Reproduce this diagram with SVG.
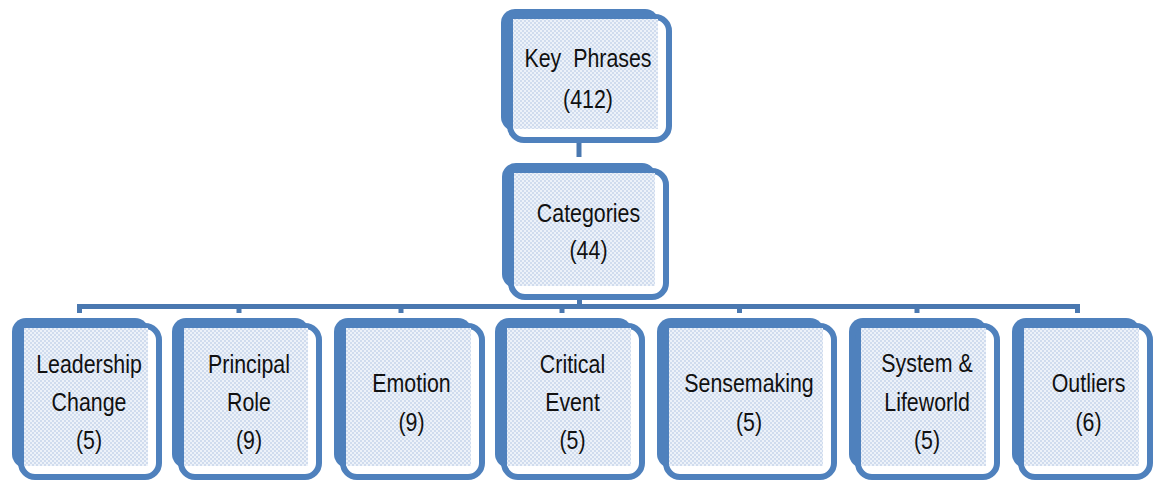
<svg xmlns="http://www.w3.org/2000/svg" width="1154" height="481" viewBox="0 0 1154 481">
<style>
.back{fill:#4f81bd}
.front{fill:#ffffff;stroke:#4f81bd;stroke-width:6}
.pat{fill:url(#dots)}
.t{font-family:"Liberation Sans",Arial,sans-serif;font-size:25px;fill:#111;text-anchor:middle}
.conn{fill:none;stroke:#4a78b0;stroke-width:5}
</style>
<defs>
<pattern id="dots" width="4" height="4" patternUnits="userSpaceOnUse">
<rect width="4" height="4" fill="#edf2f9"/>
<rect width="2" height="2" fill="#d0dcee"/>
<rect x="2" y="2" width="2" height="2" fill="#d0dcee"/>
</pattern>
</defs>
<rect width="1154" height="481" fill="#ffffff"/>
<g id="connectors">
<path class="conn" d="M579 143V157" stroke-width="6"/>
<path class="conn" d="M579.5 300V306.5"/>
<path class="conn" d="M79.5 313V306.5H1077.5V313"/>
<path class="conn" d="M239 306.5V313M401 306.5V313M562 306.5V313M739.5 306.5V313M917 306.5V313"/>
</g>
<g id="key-phrases">
<rect class="back" x="501" y="9" width="158" height="122" rx="14"/>
<rect class="front" x="510" y="17" width="159" height="123" rx="14"/>
<rect class="pat" x="513" y="19" width="145" height="110"/>
<text class="t" xml:space="preserve" transform="translate(588 0) scale(0.855 1)" x="0" y="67">Key  Phrases</text>
<text class="t" transform="translate(588 0) scale(0.855 1)" x="0" y="108">(412)</text>
</g>
<g id="categories">
<rect class="back" x="502" y="163" width="154" height="125" rx="14"/>
<rect class="front" x="511" y="171" width="155" height="126" rx="14"/>
<rect class="pat" x="514" y="173" width="141" height="113"/>
<text class="t" transform="translate(588.5 0) scale(0.855 1)" x="0" y="222">Categories</text>
<text class="t" transform="translate(588.5 0) scale(0.855 1)" x="0" y="259">(44)</text>
</g>
<g id="leadership-change">
<rect class="back" x="12" y="318" width="137" height="150" rx="14"/>
<rect class="front" x="21" y="326" width="138" height="151" rx="14"/>
<rect class="pat" x="24" y="328" width="124" height="138"/>
<text class="t" transform="translate(89 0) scale(0.855 1)" x="0" y="373">Leadership</text>
<text class="t" transform="translate(89 0) scale(0.855 1)" x="0" y="411">Change</text>
<text class="t" transform="translate(89 0) scale(0.855 1)" x="0" y="449">(5)</text>
</g>
<g id="principal-role">
<rect class="back" x="172" y="318" width="137" height="150" rx="14"/>
<rect class="front" x="181" y="326" width="138" height="151" rx="14"/>
<rect class="pat" x="184" y="328" width="124" height="138"/>
<text class="t" transform="translate(249 0) scale(0.855 1)" x="0" y="373">Principal</text>
<text class="t" transform="translate(249 0) scale(0.855 1)" x="0" y="411">Role</text>
<text class="t" transform="translate(249 0) scale(0.855 1)" x="0" y="449">(9)</text>
</g>
<g id="emotion">
<rect class="back" x="334" y="318" width="138" height="150" rx="14"/>
<rect class="front" x="343" y="326" width="139" height="151" rx="14"/>
<rect class="pat" x="346" y="328" width="125" height="138"/>
<text class="t" transform="translate(411.5 0) scale(0.855 1)" x="0" y="392">Emotion</text>
<text class="t" transform="translate(411.5 0) scale(0.855 1)" x="0" y="431">(9)</text>
</g>
<g id="critical-event">
<rect class="back" x="495" y="318" width="137" height="150" rx="14"/>
<rect class="front" x="504" y="326" width="138" height="151" rx="14"/>
<rect class="pat" x="507" y="328" width="124" height="138"/>
<text class="t" transform="translate(572.5 0) scale(0.855 1)" x="0" y="373">Critical</text>
<text class="t" transform="translate(572.5 0) scale(0.855 1)" x="0" y="411">Event</text>
<text class="t" transform="translate(572.5 0) scale(0.855 1)" x="0" y="449">(5)</text>
</g>
<g id="sensemaking">
<rect class="back" x="657" y="318" width="167" height="150" rx="14"/>
<rect class="front" x="666" y="326" width="168" height="151" rx="14"/>
<rect class="pat" x="669" y="328" width="154" height="138"/>
<text class="t" transform="translate(749 0) scale(0.855 1)" x="0" y="392">Sensemaking</text>
<text class="t" transform="translate(749 0) scale(0.855 1)" x="0" y="431">(5)</text>
</g>
<g id="system-lifeworld">
<rect class="back" x="849" y="318" width="138" height="150" rx="14"/>
<rect class="front" x="858" y="326" width="139" height="151" rx="14"/>
<rect class="pat" x="861" y="328" width="125" height="138"/>
<text class="t" transform="translate(927 0) scale(0.855 1)" x="0" y="372">System &amp;</text>
<text class="t" transform="translate(927 0) scale(0.855 1)" x="0" y="411">Lifeworld</text>
<text class="t" transform="translate(927 0) scale(0.855 1)" x="0" y="449">(5)</text>
</g>
<g id="outliers">
<rect class="back" x="1012" y="318" width="128" height="150" rx="14"/>
<rect class="front" x="1021" y="326" width="129" height="151" rx="14"/>
<rect class="pat" x="1024" y="328" width="115" height="138"/>
<text class="t" transform="translate(1088.5 0) scale(0.855 1)" x="0" y="392">Outliers</text>
<text class="t" transform="translate(1088.5 0) scale(0.855 1)" x="0" y="431">(6)</text>
</g>
</svg>
